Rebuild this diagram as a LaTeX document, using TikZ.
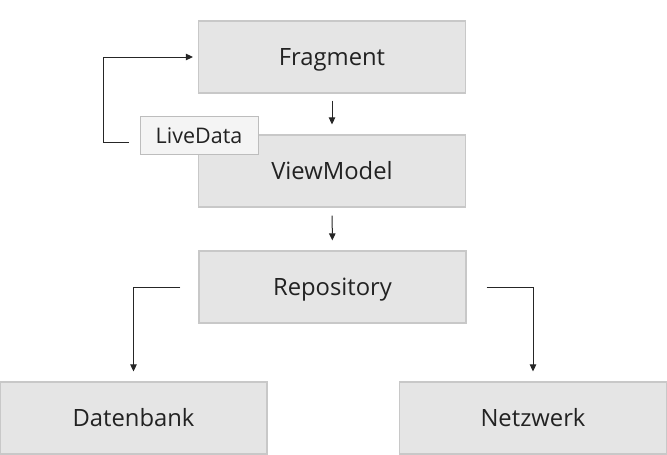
\documentclass[tikz,border=0pt]{standalone}
\usepackage{fontspec}
\setmainfont{Open Sans}
\usetikzlibrary{arrows.meta}
\definecolor{boxfill}{HTML}{E5E5E5}
\definecolor{boxline}{HTML}{C8C8C8}
\definecolor{ldfill}{HTML}{F4F4F4}
\definecolor{ldline}{HTML}{BDBDBD}
\definecolor{txt}{HTML}{222222}
\begin{document}
\begin{tikzpicture}[x=1pt,y=-1pt,
  box/.style={draw=boxline, fill=boxfill, line width=1.2pt, minimum width=267pt, minimum height=72pt, inner sep=0pt, text height=17pt, text depth=0pt, font=\fontsize{23.8}{28}\selectfont, text=txt},
  ldbox/.style={draw=ldline, fill=ldfill, line width=1pt, minimum width=118pt, minimum height=38pt, inner sep=0pt, text height=15.4pt, text depth=0pt, font=\fontsize{21.5}{25}\selectfont, text=txt},
  arr/.style={draw=black!85, line width=1pt, -{Triangle[length=7pt,width=6.5pt]}}]
\useasboundingbox (0,0) rectangle (667,455);
\node[box] (frag) at (332,57) {Fragment};
\node[box] (vm) at (332,171) {ViewModel};
\node[ldbox] (ld) at (199,135.5) {LiveData};
\node[box] (repo) at (332.5,287) {Repository};
\node[box] (db) at (133.5,418) {Datenbank};
\node[box] (net) at (533,418) {Netzwerk};
\coordinate (ls) at (129,142);
\draw[arr, shorten >=5pt] (ls) -- (103,142) |- (frag.west);
\draw[arr, shorten <=7pt, shorten >=10pt] (frag) -- (vm);
\draw[arr, shorten <=8pt, shorten >=10pt] (vm) -- (repo);
\draw[arr, shorten <=18pt, shorten >=10pt] (repo.west) -| (db.north);
\draw[arr, shorten <=20pt, shorten >=10pt] (repo.east) -| (net.north);
\end{tikzpicture}
\end{document}
